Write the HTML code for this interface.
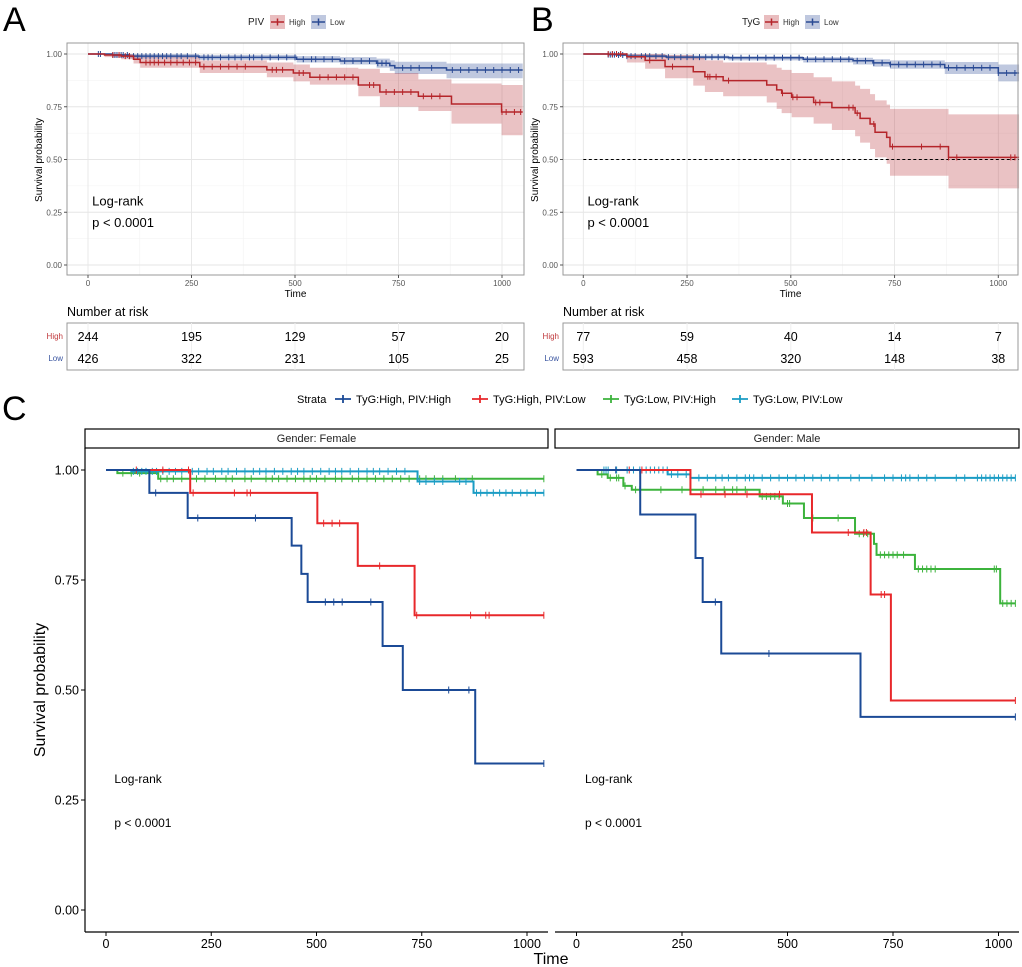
<!DOCTYPE html>
<html><head><meta charset="utf-8"><style>
body{margin:0;background:#fff}
svg{display:block;font-family:"Liberation Sans",Arial,sans-serif}
</style></head><body>
<svg id="fig" width="1022" height="967" viewBox="0 0 1022 967" xmlns="http://www.w3.org/2000/svg"></svg>
<script>
// ---------- Data: Panel A (PIV) ----------
const aHighT=[0,40,80,110,126,270,432,496,536,653,705,798,878,999];
const aHighS=[1,.995,.99,.975,.96,.94,.925,.91,.89,.853,.82,.80,.763,.725];
const aHighLo=[1,.985,.975,.955,.935,.91,.89,.87,.855,.80,.75,.73,.67,.615];
const aHighHi=[1,1,1,.995,.985,.97,.96,.95,.935,.93,.91,.88,.86,.853];
const aHighCens=[60,75,90,100,140,150,160,170,185,200,215,230,245,260,280,300,320,340,360,380,445,455,470,510,520,560,580,600,620,640,680,690,720,740,760,780,810,830,850,1000,1010,1030,1045];
const aLowT=[0,60,100,268,504,609,697,729,741,866];
const aLowS=[1,.995,.99,.984,.975,.967,.956,.945,.934,.924];
const aLowLo=[1,.99,.98,.972,.96,.95,.935,.92,.905,.885];
const aLowHi=[1,1,1,.995,.99,.985,.978,.97,.963,.955];
const aLowCens=[25,30,60,65,70,75,80,85,95,100,110,120,130,140,150,160,170,180,190,200,215,225,240,260,280,290,300,320,340,355,370,390,400,420,440,460,480,500,520,540,550,570,590,620,640,660,680,700,710,720,760,780,800,830,880,900,920,940,960,980,1000,1020,1040];
const aRiskHigh=[244,195,129,57,20];
const aRiskLow=[426,322,231,105,25];
// ---------- Data: Panel B (TyG) ----------
const bHighT=[0,105,149,197,265,293,337,442,466,478,502,555,599,655,667,691,703,731,739,880];
const bHighS=[1,.987,.97,.94,.916,.892,.874,.853,.83,.814,.795,.77,.746,.72,.695,.668,.629,.605,.561,.51];
const bHighLo=[1,.96,.93,.885,.85,.82,.80,.77,.74,.72,.70,.67,.64,.61,.58,.55,.51,.48,.423,.363];
const bHighHi=[1,1,1,.995,.985,.97,.96,.95,.935,.925,.91,.89,.87,.85,.835,.81,.78,.76,.74,.714];
const bHighCens=[60,70,80,90,160,215,300,305,320,350,480,505,515,560,570,640,650,660,700,745,815,860,880,900,1030,1040];
const bLowT=[0,60,80,105,200,350,530,650,698,739,871,1000];
const bLowS=[1,.997,.995,.99,.985,.982,.975,.968,.958,.95,.935,.91];
const bLowLo=[1,.995,.99,.982,.975,.97,.96,.95,.94,.93,.905,.87];
const bLowHi=[1,1,1,.998,.993,.99,.985,.982,.975,.97,.962,.95];
const bLowCens=[60,65,70,75,85,95,105,115,125,140,150,160,175,190,205,220,235,250,265,280,295,310,325,340,360,380,400,420,440,460,480,500,520,540,560,580,600,620,640,660,680,700,720,740,760,780,800,820,840,860,880,900,920,940,960,980,1000,1020,1040];
const bRiskHigh=[77,59,40,14,7];
const bRiskLow=[593,458,320,148,38];
const riskTimes=[0,250,500,750,1000];
// ---------- Data: Panel C (strata by gender) ----------
const fHHT=[0,103,194,441,464,479,657,705,877];
const fHHS=[1,.948,.891,.828,.764,.70,.60,.50,.333];
const fHHC=[118,218,355,521,541,561,629,814,862,1040];
const fHLT=[0,200,502,598,733];
const fHLS=[1,.948,.879,.782,.670];
const fHLC=[72,135,196,207,305,335,343,517,537,555,650,738,866,902,910,1040];
const fLHT=[0,27,124];
const fLHS=[1,.993,.98];
const fLHC=[40,60,80,130,145,160,180,200,215,235,260,285,300,330,345,380,395,410,430,450,470,485,500,520,545,560,585,600,620,640,660,680,700,720,745,760,780,800,830,870,1040];
const fLLT=[0,60,740,873];
const fLLS=[1,.997,.974,.948];
const fLLC=[65,75,85,95,110,120,135,150,165,180,205,220,240,255,275,290,310,330,350,365,380,400,420,440,455,470,490,510,530,545,560,580,600,620,635,650,670,690,710,745,760,780,800,840,855,880,890,905,920,935,950,965,985,1000,1020,1040];
const mHHT=[0,151,282,299,343,673];
const mHHS=[1,.899,.80,.70,.583,.439];
const mHHC=[93,329,456,1040];
const mHLT=[0,270,558,697,745];
const mHLS=[1,.945,.858,.717,.476];
const mHLC=[125,155,295,352,404,481,644,681,687,722,730,1040];
const mLHT=[0,50,74,111,131,434,489,539,660,705,711,802,1004];
const mLHS=[1,.99,.982,.964,.955,.94,.924,.891,.855,.832,.807,.775,.697];
const mLHC=[60,80,95,100,115,140,150,200,250,300,330,350,370,380,400,440,450,460,470,480,500,505,560,620,670,680,690,720,730,740,750,760,775,810,820,830,840,850,990,995,1010,1020,1030,1040];
const mLLC=[65,70,75,95,120,135,150,165,175,185,195,205,215,225,240,260,290,310,330,345,360,380,400,410,420,440,460,480,500,520,540,560,580,600,620,650,670,700,730,750,770,780,790,810,830,850,900,920,950,960,970,980,990,1000,1010,1020,1030,1040];
const mLLT=[0,216,270];
const mLLS=[1,.99,.982];
const yTicks=[0,0.25,0.5,0.75,1];
const xTicks=[0,250,500,750,1000];

const svg=document.getElementById('fig');
const NS='http://www.w3.org/2000/svg';
function el(tag,attrs,parent,name,inter){
  const e=document.createElementNS(NS,tag);
  for(const k in attrs)e.setAttribute(k,attrs[k]);
  
  
  (parent||svg).appendChild(e);return e;
}
function txt(x,y,s,attrs,name,parent){const t=el('text',Object.assign({x:x,y:y},attrs),parent,name,false);t.textContent=s;return t;}
function survAt(T,S,t){let v=S[0];for(let i=0;i<T.length;i++){if(T[i]<=t)v=S[i];}return v;}
function stepPath(T,S,X,Y,tEnd){let d='M'+X(T[0])+','+Y(S[0]);for(let i=1;i<T.length;i++){d+=' H'+X(T[i])+' V'+Y(S[i]);}d+=' H'+X(tEnd);return d;}
function bandPath(T,lo,hi,X,Y,tEnd){let d='M'+X(T[0])+','+Y(hi[0]);for(let i=1;i<T.length;i++){d+=' H'+X(T[i])+' V'+Y(hi[i]);}d+=' H'+X(tEnd)+' V'+Y(lo[lo.length-1]);for(let i=T.length-1;i>=1;i--){d+=' H'+X(T[i])+' V'+Y(lo[i-1]);}d+=' H'+X(T[0])+'Z';return d;}
function drawCurve(g,T,S,C,X,Y,tEnd,color,w,h,name){
  el('path',{d:stepPath(T,S,X,Y,tEnd),fill:'none',stroke:color,'stroke-width':w},g,name+'-line',false);
  let d='';
  C.forEach(t=>{const x=X(t),y=Y(survAt(T,S,t));d+='M'+x+','+(y-h)+' V'+(y+h)+' ';});
  el('path',{d:d,fill:'none',stroke:color,'stroke-width':1},g,name+'-censor-marks',false);
}

// ---------- Panels A & B ----------
function panelAB(cfg){
  const g=el('g',{},svg,cfg.id,false);
  const L=cfg.L,R=cfg.R,T0=43,B0=275;
  const X=t=>cfg.x0+t*cfg.k;const Y=s=>265-211*s;
  el('rect',{x:L,y:T0,width:R-L,height:B0-T0,fill:'#fff'},g,cfg.id+'-plot-bg',false);
  for(let t=125;t<=1050;t+=250)el('line',{x1:X(t),x2:X(t),y1:T0,y2:B0,stroke:'#f2f2f2','stroke-width':0.6},g,'minor-gridline-x',false);
  [0.125,0.375,0.625,0.875].forEach(s=>el('line',{x1:L,x2:R,y1:Y(s),y2:Y(s),stroke:'#f2f2f2','stroke-width':0.6},g,'minor-gridline-y',false));
  xTicks.forEach(t=>el('line',{x1:X(t),x2:X(t),y1:T0,y2:B0,stroke:'#e6e6e6','stroke-width':0.9},g,'gridline-x',false));
  yTicks.forEach(s=>el('line',{x1:L,x2:R,y1:Y(s),y2:Y(s),stroke:'#e6e6e6','stroke-width':0.9},g,'gridline-y',false));
  el('path',{d:bandPath(cfg.lowT,cfg.lowLo,cfg.lowHi,X,Y,1050),fill:'#2a4a94','fill-opacity':0.3},g,'ci-band-low',false);
  el('path',{d:bandPath(cfg.highT,cfg.highLo,cfg.highHi,X,Y,1050),fill:'#b5252a','fill-opacity':0.28},g,'ci-band-high',false);
  if(cfg.median)el('line',{x1:X(0),x2:X(1050),y1:Y(0.5),y2:Y(0.5),stroke:'#000','stroke-width':1,'stroke-dasharray':'3,2.5'},g,'median-line',false);
  drawCurve(g,cfg.lowT,cfg.lowS,cfg.lowC,X,Y,1050,'#2a4a94',1.5,3,'curve-low');
  drawCurve(g,cfg.highT,cfg.highS,cfg.highC,X,Y,1050,'#b5252a',1.5,3,'curve-high');
  el('rect',{x:L,y:T0,width:R-L,height:B0-T0,fill:'none',stroke:'#999','stroke-width':1},g,'plot-border',false);
  yTicks.forEach(s=>{el('line',{x1:L-3,x2:L,y1:Y(s),y2:Y(s),stroke:'#555'},g,'y-tick',false);
    txt(L-5,Y(s)+3,s.toFixed(2),{'font-size':8,fill:'#555','text-anchor':'end'},'y-tick-label',g);});
  xTicks.forEach(t=>{el('line',{x1:X(t),x2:X(t),y1:B0,y2:B0+3,stroke:'#555'},g,'x-tick',false);
    txt(X(t),B0+11,String(t),{'font-size':8,fill:'#555','text-anchor':'middle'},'x-tick-label',g);});
  txt((L+R)/2,B0+22,'Time',{'font-size':10,'text-anchor':'middle'},'x-axis-title',g);
  txt(0,0,'Survival probability',{'font-size':10,'text-anchor':'middle',transform:'translate('+(L-25)+',160) rotate(-90)'},'y-axis-title',g);
  txt(X(10),Y(0.3)+4,'Log-rank',{'font-size':13},'logrank-label',g);
  txt(X(10),Y(0.2)+4,'p < 0.0001',{'font-size':13},'p-value',g);
  txt(cfg.letterX,31,cfg.letter,{'font-size':34},'panel-letter',g);
  // legend
  const lx=cfg.legX;
  txt(lx,25,cfg.var,{'font-size':10,fill:'#222'},'legend-title',g);
  [['High','#b5252a',lx+22],['Low','#2a4a94',lx+63]].forEach(([lab,c,x])=>{
    el('rect',{x:x,y:15,width:15,height:14,fill:c,'fill-opacity':0.3},g,'legend-key-'+lab.toLowerCase(),true);
    el('path',{d:'M'+(x+1)+',22 H'+(x+14)+' M'+(x+7.5)+',18.5 V25.5',stroke:c,'stroke-width':1.5},g,'legend-key-line',false);
    txt(x+19,25,lab,{'font-size':8,fill:'#333'},'legend-label-'+lab.toLowerCase(),g);
  });
  // risk table
  txt(L,316,'Number at risk',{'font-size':12.5},'risk-table-title',g);
  el('rect',{x:L,y:323,width:R-L,height:47,fill:'#fff',stroke:'#999'},g,'risk-table-box',false);
  riskTimes.forEach(t=>el('line',{x1:X(t),x2:X(t),y1:323,y2:370,stroke:'#efefef'},g,'risk-gridline',false));
  txt(L-4,339,'High',{'font-size':8,fill:'#c0393d','text-anchor':'end'},'risk-row-label-high',g);
  txt(L-4,361,'Low',{'font-size':8,fill:'#3a55a0','text-anchor':'end'},'risk-row-label-low',g);
  riskTimes.forEach((t,i)=>{
    txt(X(t),341,String(cfg.riskH[i]),{'font-size':12.5,'text-anchor':'middle'},'risk-high-value',g);
    txt(X(t),363,String(cfg.riskL[i]),{'font-size':12.5,'text-anchor':'middle'},'risk-low-value',g);
  });
}
panelAB({id:'panel-a',letter:'A',letterX:3,var:'PIV',legX:248,L:67,R:524,x0:88,k:0.414,
  highT:aHighT,highS:aHighS,highLo:aHighLo,highHi:aHighHi,highC:aHighCens,
  lowT:aLowT,lowS:aLowS,lowLo:aLowLo,lowHi:aLowHi,lowC:aLowCens,riskH:aRiskHigh,riskL:aRiskLow});
panelAB({id:'panel-b',letter:'B',letterX:531,var:'TyG',legX:742,L:563,R:1018,x0:583.3,k:0.415,median:true,
  highT:bHighT,highS:bHighS,highLo:bHighLo,highHi:bHighHi,highC:bHighCens,
  lowT:bLowT,lowS:bLowS,lowLo:bLowLo,lowHi:bLowHi,lowC:bLowCens,riskH:bRiskHigh,riskL:bRiskLow});

// ---------- Panel C ----------
const gc=el('g',{},svg,'panel-c',false);
txt(2,420,'C',{'font-size':34},'panel-letter',gc);
const cCols={HH:'#1b4a96',HL:'#e8282b',LH:'#3cb33c',LL:'#1a9cc4'};
txt(297,403,'Strata',{'font-size':11},'legend-title',gc);
[['TyG:High, PIV:High','HH',335],['TyG:High, PIV:Low','HL',472],['TyG:Low, PIV:High','LH',603],['TyG:Low, PIV:Low','LL',732]].forEach(([lab,k,x])=>{
  el('path',{d:'M'+x+',399 H'+(x+16)+' M'+(x+8)+',395 V403',stroke:cCols[k],'stroke-width':1.8},gc,'legend-key-'+k.toLowerCase(),true);
  txt(x+21,403,lab,{'font-size':11},'legend-label',gc);
});
const CY=s=>910-440*s;
function facet(L,R,x0,k,title,sets,name){
  const g=el('g',{},gc,name,false);
  const X=t=>x0+t*k;
  el('rect',{x:L,y:429,width:R-L,height:19,fill:'#fff',stroke:'#000','stroke-width':1.2},g,'facet-strip',false);
  txt((L+R)/2,442,title,{'font-size':11,fill:'#222','text-anchor':'middle'},'facet-title',g);
  el('line',{x1:L,x2:R,y1:932,y2:932,stroke:'#000','stroke-width':1.2},g,'x-axis-line',false);
  xTicks.forEach(t=>{el('line',{x1:X(t),x2:X(t),y1:932,y2:936,stroke:'#000'},g,'x-tick',false);
    txt(X(t),948,String(t),{'font-size':12.5,'text-anchor':'middle'},'x-tick-label',g);});
  sets.forEach(([T,S,C,key])=>drawCurve(g,T,S,C,X,CY,1040,cCols[key],2,3.5,'curve-'+key.toLowerCase()));
  txt(X(20),783,'Log-rank',{'font-size':12},'logrank-label',g);
  txt(X(20),827,'p < 0.0001',{'font-size':12},'p-value',g);
}
facet(85,548,106,0.421,'Gender: Female',[[fLHT,fLHS,fLHC,'LH'],[fLLT,fLLS,fLLC,'LL'],[fHLT,fHLS,fHLC,'HL'],[fHHT,fHHS,fHHC,'HH']],'facet-female');
facet(555,1019,576.5,0.422,'Gender: Male',[[mLHT,mLHS,mLHC,'LH'],[mLLT,mLLS,mLLC,'LL'],[mHLT,mHLS,mHLC,'HL'],[mHHT,mHHS,mHHC,'HH']],'facet-male');
el('line',{x1:85,x2:85,y1:448,y2:932,stroke:'#000','stroke-width':1.2},gc,'y-axis-line',false);
yTicks.forEach(s=>{el('line',{x1:81,x2:85,y1:CY(s),y2:CY(s),stroke:'#000'},gc,'y-tick',false);
  txt(79,CY(s)+4.5,s.toFixed(2),{'font-size':12.5,'text-anchor':'end'},'y-tick-label',gc);});
txt(0,0,'Survival probability',{'font-size':16,'text-anchor':'middle',transform:'translate(45,690) rotate(-90)'},'y-axis-title',gc);
txt(551,964,'Time',{'font-size':16,'text-anchor':'middle'},'x-axis-title',gc);
</script>
</body></html>
